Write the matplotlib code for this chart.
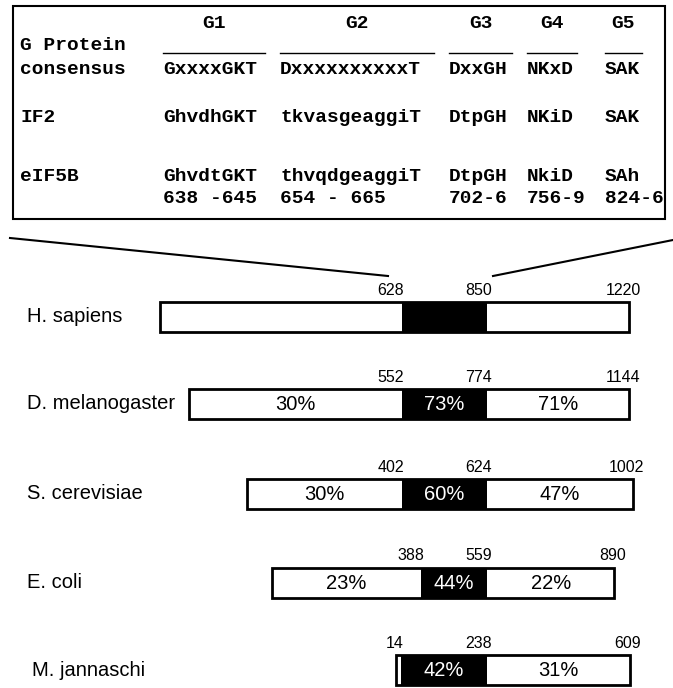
import matplotlib
matplotlib.use("Agg")
import matplotlib.pyplot as plt
from matplotlib.patches import Rectangle

# G-domain motif table
motif_groups = ["G1", "G2", "G3", "G4", "G5"]
motif_cols = [11, 20, 33, 39, 45]
motif_rows = [
    ("consensus", ["GxxxxGKT", "DxxxxxxxxxxT", "DxxGH", "NKxD", "SAK"]),
    ("IF2", ["GhvdhGKT", "tkvasgeaggiT", "DtpGH", "NKiD", "SAK"]),
    ("eIF5B", ["GhvdtGKT", "thvqdgeaggiT", "DtpGH", "NkiD", "SAh"]),
]
motif_ranges = ["638 -645", "654 - 665", "702-6", "756-9", "824-6"]

# eIF5B / IF2 homologues: length, G-domain boundaries and identity to human
species = ["H. sapiens", "D. melanogaster", "S. cerevisiae", "E. coli", "M. jannaschi"]
g_start = [628, 552, 402, 388, 14]
g_end = [850, 774, 624, 559, 238]
length = [1220, 1144, 1002, 890, 609]
pct_n = [None, "30%", "30%", "23%", None]
pct_g = [None, "73%", "60%", "44%", "42%"]
pct_c = [None, "71%", "47%", "22%", "31%"]

W, H = 673, 688
fig = plt.figure(figsize=(W / 100, H / 100), dpi=100)

# pixel-space layer for the table, the zoom lines and the species names
top = fig.add_axes([0, 0, 1, 1])
top.set_xlim(0, W)
top.set_ylim(H, 0)
top.axis("off")

# residue-space layer for the bars (x = 0 at the end of the G domain)
px_per_res = 0.385
x_anchor = 487
ax = fig.add_axes([0, 0, 1, 1])
ax.set_xlim(-x_anchor / px_per_res, (W - x_anchor) / px_per_res)
ax.set_ylim(H, 0)
ax.axis("off")
ax.patch.set_alpha(0)

mono = dict(family="Liberation Mono", fontweight="bold", fontsize=14, color="black")
x0, pitch = 20, 13

top.add_patch(Rectangle((13, 6), 652, 213, fill=False, lw=1.5, ec="black"))

# group headers with their underlines
lens = [len(s) for s in motif_rows[0][1]]
for name, col, n in zip(motif_groups, motif_cols, lens):
    xa = x0 + col * pitch
    xb = xa + n * pitch - 2
    top.text((xa + xb) / 2, 28, name, ha="center", va="baseline", **mono)
    top.plot([xa, xb], [53, 53], color="black", lw=1.0)
top.text(x0, 50, "G Protein", ha="left", va="baseline", **mono)

for (label, motifs), yb in zip(motif_rows, [74, 122, 181]):
    top.text(x0, yb, label, ha="left", va="baseline", **mono)
    for col, m in zip(motif_cols, motifs):
        top.text(x0 + col * pitch, yb, m, ha="left", va="baseline", **mono)
for col, r in zip(motif_cols, motif_ranges):
    top.text(x0 + col * pitch, 203, r, ha="left", va="baseline", **mono)

# zoom lines from the table down to the human G domain
top.plot([10, 388], [238, 276], color="black", lw=1.5)
top.plot([493, 673], [276, 240], color="black", lw=1.5)

sans = "Liberation Sans"
row_y = [317, 403.5, 493.5, 582.5, 670]
bar_h = 30
for i, name in enumerate(species):
    y = row_y[i]
    s, a, b, e = 1 - g_end[i], g_start[i] - g_end[i], 0, length[i] - g_end[i]
    top.text(27 if i < 4 else 32, y, name, ha="left", va="center",
             fontsize=14.5, family=sans)

    ax.add_patch(Rectangle((s, y - bar_h / 2), a - s, bar_h, fc="white", ec="none"))
    ax.add_patch(Rectangle((a, y - bar_h / 2), b - a, bar_h, fc="black", ec="none"))
    ax.add_patch(Rectangle((b, y - bar_h / 2), e - b, bar_h, fc="white", ec="none"))
    ax.add_patch(Rectangle((s, y - bar_h / 2), e - s, bar_h, fill=False, ec="black", lw=2))

    for txt, xc, col in [(pct_n[i], (s + a) / 2, "black"),
                         (pct_g[i], (a + b) / 2, "white"),
                         (pct_c[i], (b + e) / 2, "black")]:
        if txt:
            ax.text(xc, y + 1, txt, ha="center", va="center", fontsize=14.5,
                    family=sans, color=col)

    num = dict(fontsize=11.5, family=sans, va="baseline", textcoords="offset points")
    ax.annotate(str(g_start[i]), (a, y - 22), xytext=(2, 0), ha="right", **num)
    ax.annotate(str(g_end[i]), (b, y - 22), xytext=(-6, 0), ha="center", **num)
    ax.annotate(str(length[i]), (e, y - 22), xytext=(8, 0), ha="right", **num)

fig.savefig("out.png", dpi=100)
